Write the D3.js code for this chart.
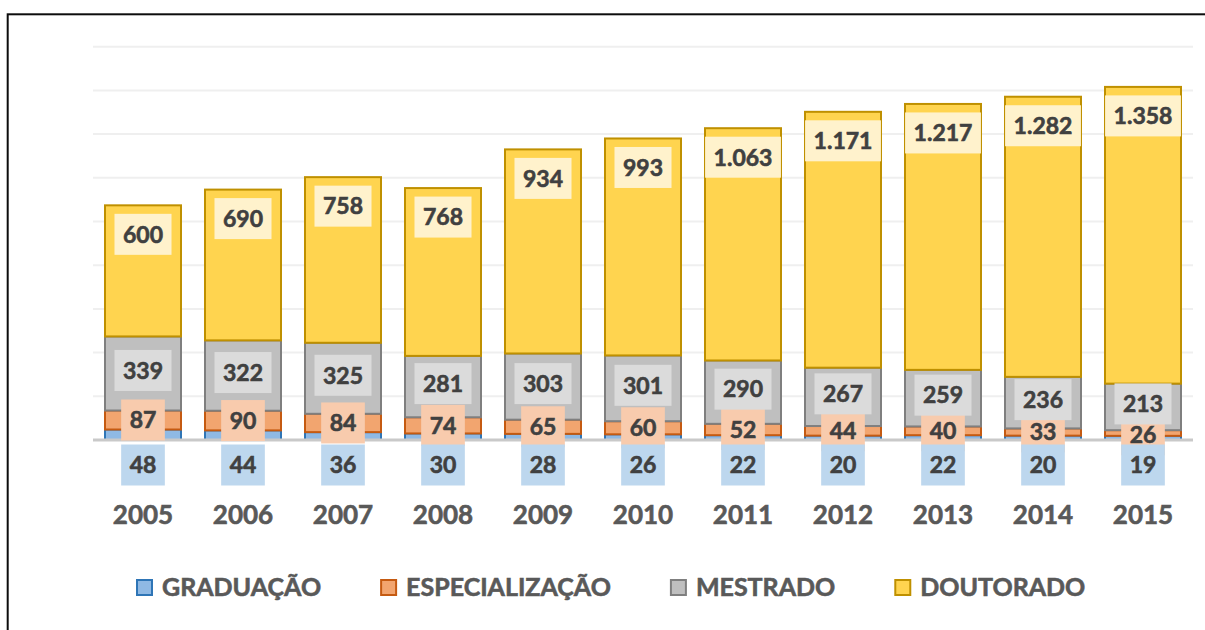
<!DOCTYPE html>
<html>
<head>
<meta charset="utf-8">
<script src="https://cdn.jsdelivr.net/npm/d3@7"></script>
<style>
  body { margin: 0; background: #fff; }
</style>
</head>
<body>
<div id="chart"></div>
<script>
const years = ["2005", "2006", "2007", "2008", "2009", "2010", "2011", "2012", "2013", "2014", "2015"];
const graduacao = [48, 44, 36, 30, 28, 26, 22, 20, 22, 20, 19];
const especializacao = [87, 90, 84, 74, 65, 60, 52, 44, 40, 33, 26];
const mestrado = [339, 322, 325, 281, 303, 301, 290, 267, 259, 236, 213];
const doutorado = [600, 690, 758, 768, 934, 993, 1063, 1171, 1217, 1282, 1358];
const seriesNames = ["GRADUAÇÃO", "ESPECIALIZAÇÃO", "MESTRADO", "DOUTORADO"];
const yMax = 1800;

const W = 1205, H = 630;
const plot = { left: 93, right: 1193, top: 46.7, base: 440 };

const fills   = ["#8fb9e4", "#f2a56f", "#bfbfbf", "#ffd44f"];
const strokes = ["#2e75b6", "#c55a11", "#7f7f7f", "#bf9000"];
const boxes   = ["#bdd7ee", "#f8cbad", "#dbdbdb", "#fff2cc"];

const fmt = d3.formatLocale({ decimal: ",", thousands: ".", grouping: [3], currency: ["R$", ""] }).format(",d");

const rows = years.map((y, i) => ({
  year: y,
  g: graduacao[i],
  e: especializacao[i],
  m: mestrado[i],
  d: doutorado[i]
}));
const keys = ["g", "e", "m", "d"];
const stacked = d3.stack().keys(keys)(rows);

const svg = d3.select("#chart")
  .append("svg")
  .attr("width", W)
  .attr("height", H)
  .style("font-family", "Lato, 'Open Sans', sans-serif");

// frame
svg.append("rect")
  .attr("x", 7.7).attr("y", 14.3)
  .attr("width", W).attr("height", H)
  .attr("fill", "none")
  .attr("stroke", "#0d0d0d")
  .attr("stroke-width", 2);

const x = d3.scaleBand()
  .domain(years)
  .range([plot.left, plot.right])
  .paddingInner(0.22)
  .paddingOuter(0.11);

const y = d3.scaleLinear()
  .domain([0, yMax])
  .range([plot.base, plot.top]);

// gridlines
svg.append("g")
  .selectAll("line")
  .data(y.ticks(9).filter(t => t > 0))
  .enter()
  .append("line")
  .attr("x1", plot.left).attr("x2", plot.right)
  .attr("y1", d => y(d)).attr("y2", d => y(d))
  .attr("stroke", "#efefef")
  .attr("stroke-width", 2);

// bars
svg.selectAll("g.layer")
  .data(stacked)
  .enter()
  .append("g")
  .attr("class", "layer")
  .attr("fill", (d, i) => fills[i])
  .attr("stroke", (d, i) => strokes[i])
  .attr("stroke-width", 2)
  .selectAll("rect")
  .data(d => d)
  .enter()
  .append("rect")
  .attr("x", d => x(d.data.year) + 1)
  .attr("y", d => y(d[1]))
  .attr("width", x.bandwidth() - 2)
  .attr("height", d => y(d[0]) - y(d[1]));

// baseline
svg.append("line")
  .attr("x1", plot.left).attr("x2", plot.right)
  .attr("y1", y(0)).attr("y2", y(0))
  .attr("stroke", "#c9c9c9")
  .attr("stroke-width", 3);

// x axis labels
svg.append("g")
  .selectAll("text")
  .data(years)
  .enter()
  .append("text")
  .attr("x", d => x(d) + x.bandwidth() / 2)
  .attr("y", 523.5)
  .attr("text-anchor", "middle")
  .attr("fill", "#595959")
  .attr("stroke", "#595959")
  .attr("stroke-width", 0.6)
  .style("font-size", "26px")
  .style("font-weight", "bold")
  .text(d => d);

// data labels: label centres, nudged apart like the original
const mid = d => (y(d[0]) + y(d[1])) / 2;
const labelY = (k, d, i) => {
  if (k === 0) return y(0) + 25;
  if (k === 3) return y(d[1]) + 29;
  if (k === 2) return mid(d) - 3;
  return Math.max(mid(d), mid(stacked[2][i]) - 3 + 31);
};

const drawOrder = [1, 0, 2, 3];
drawOrder.forEach(k => {
  const g = svg.append("g");
  stacked[k].forEach((d, i) => {
    const cx = x(d.data.year) + x.bandwidth() / 2;
    const cy = labelY(k, d, i);
    const box = g.append("rect").attr("fill", boxes[k]);
    const t = g.append("text")
      .attr("x", cx)
      .attr("y", cy + 8.3)
      .attr("text-anchor", "middle")
      .attr("fill", "#404040")
      .attr("stroke", "#404040")
      .attr("stroke-width", 0.6)
      .style("font-size", "23px")
      .style("font-weight", "bold")
      .text(fmt(d[1] - d[0]));
    const w = Math.min(t.node().getComputedTextLength() + 17, x.bandwidth());
    box.attr("x", cx - w / 2).attr("y", cy - 20.5)
      .attr("width", w).attr("height", 41);
  });
});

// legend
const legend = svg.append("g");
let lx = 136;
seriesNames.forEach((name, i) => {
  legend.append("rect")
    .attr("x", lx + 1).attr("y", 580)
    .attr("width", 15).attr("height", 15)
    .attr("fill", fills[i])
    .attr("stroke", strokes[i])
    .attr("stroke-width", 2);
  const t = legend.append("text")
    .attr("x", lx + 26)
    .attr("y", 596)
    .attr("fill", "#595959")
    .attr("stroke", "#595959")
    .attr("stroke-width", 0.6)
    .style("font-size", "25px")
    .style("font-weight", "bold")
    .text(name);
  lx += 26 + t.node().getComputedTextLength() + 59;
});
</script>
</body>
</html>
